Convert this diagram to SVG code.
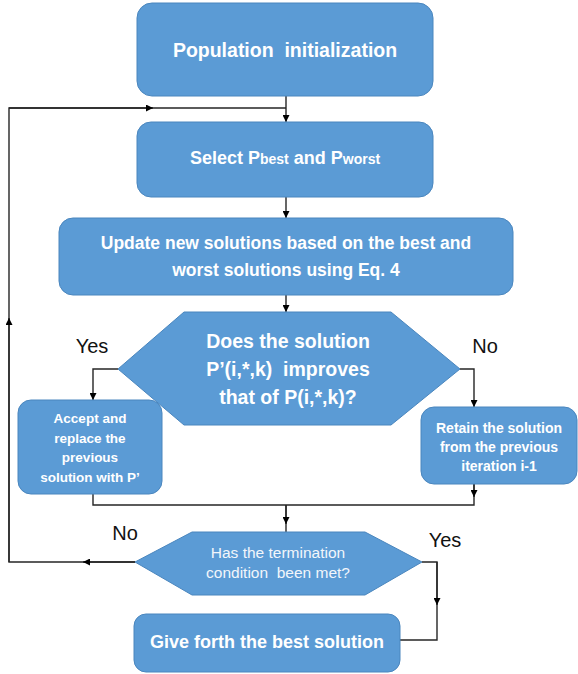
<svg xmlns="http://www.w3.org/2000/svg" width="578" height="674" viewBox="0 0 578 674">
<defs>
<style>
.box{fill:#5B9BD5;stroke:#4A86BE;stroke-width:1}
.t{font-family:"Liberation Sans",Arial,sans-serif;fill:#ffffff;text-anchor:middle;font-weight:bold;white-space:pre}
.tr{font-family:"Liberation Sans",Arial,sans-serif;fill:#f2f6fb;text-anchor:middle;font-weight:normal;white-space:pre}
.lbl{font-family:"Liberation Sans",Arial,sans-serif;fill:#111111;text-anchor:middle;font-size:20px}
.c{fill:none;stroke:#262626;stroke-width:1.4}
</style>
<marker id="ah" viewBox="0 0 10 10" refX="10" refY="5" markerWidth="7" markerHeight="7" orient="auto" markerUnits="userSpaceOnUse">
<path d="M0,0 L10,5 L0,10 z" fill="#000000"/>
</marker>
</defs>
<rect width="578" height="674" fill="#ffffff"/>

<g id="connectors">
<path class="c" d="M286,96 V122" marker-end="url(#ah)"/>
<path class="c" d="M286,197 V218" marker-end="url(#ah)"/>
<path class="c" d="M286,295 V312" marker-end="url(#ah)"/>
<path class="c" d="M118,369 H93 V400" marker-end="url(#ah)"/>
<path class="c" d="M460,369 H474 V407" marker-end="url(#ah)"/>
<path class="c" d="M93,494 V505 H474 V484"/>
<path class="c" d="M474,484 V497" marker-end="url(#ah)"/>
<path class="c" d="M286,505 V532"/>
<path class="c" d="M286,505 V524" marker-end="url(#ah)"/>
<path class="c" d="M135,562 H9 V108 H286"/>
<path class="c" d="M135,562 H83" marker-end="url(#ah)"/>
<path class="c" d="M9,562 V318" marker-end="url(#ah)"/>
<path class="c" d="M9,108 H153" marker-end="url(#ah)"/>
<path class="c" d="M422,562 H437 V640 H400"/>
<path class="c" d="M437,562 V605" marker-end="url(#ah)"/>
</g>

<g id="n1">
<rect class="box" x="137" y="3" width="296" height="93" rx="15"/>
<text class="t" x="285" y="57" font-size="19.5">Population  initialization</text>
</g>

<g id="n2">
<rect class="box" x="137" y="122" width="296" height="75" rx="14"/>
<text class="t" x="285" y="164" font-size="18">Select P<tspan font-size="14">best</tspan> and P<tspan font-size="14">worst</tspan></text>
</g>

<g id="n3">
<rect class="box" x="59" y="218" width="454" height="77" rx="14"/>
<text class="t" x="286" y="249" font-size="17.5">Update new solutions based on the best and</text>
<text class="t" x="286" y="276" font-size="17.5">worst solutions using Eq. 4</text>
</g>

<g id="n4">
<polygon class="box" points="118,369 184,312 391,312 460,369 391,425 184,425"/>
<text class="t" x="288" y="348" font-size="19.5">Does the solution</text>
<text class="t" x="288" y="376" font-size="19.5">P’(i,*,k)  improves</text>
<text class="t" x="288" y="404" font-size="19.5">that of P(i,*,k)?</text>
</g>

<g id="n5">
<rect class="box" x="18" y="400" width="144" height="94" rx="13"/>
<text class="t" x="90" y="423" font-size="13.5">Accept and</text>
<text class="t" x="90" y="443" font-size="13.5">replace the</text>
<text class="t" x="90" y="462" font-size="13.5">previous</text>
<text class="t" x="90" y="482" font-size="13.5">solution with P’</text>
</g>

<g id="n6">
<rect class="box" x="421" y="407" width="156" height="77" rx="13"/>
<text class="t" x="499" y="433" font-size="14">Retain the solution</text>
<text class="t" x="499" y="452" font-size="14">from the previous</text>
<text class="t" x="499" y="471" font-size="14">iteration i-1</text>
</g>

<g id="n7">
<polygon class="box" points="135,562 192,532 365,532 422,562 365,595 192,595"/>
<text class="tr" x="278" y="558" font-size="15.5">Has the termination</text>
<text class="tr" x="278" y="578" font-size="15.5">condition  been met?</text>
</g>

<g id="n8">
<rect class="box" x="134" y="614" width="266" height="58" rx="12"/>
<text class="t" x="267" y="648" font-size="18">Give forth the best solution</text>
</g>

<g id="labels">
<text class="lbl" x="92" y="353">Yes</text>
<text class="lbl" x="485" y="353">No</text>
<text class="lbl" x="125" y="540">No</text>
<text class="lbl" x="445" y="547">Yes</text>
</g>
</svg>
